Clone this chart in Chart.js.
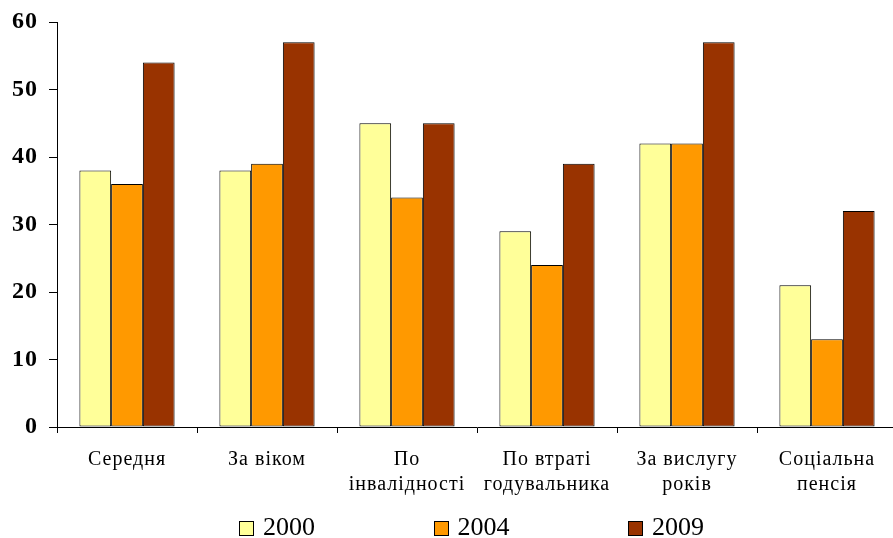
<!DOCTYPE html>
<html>
<head>
<meta charset="utf-8">
<script src="https://cdn.jsdelivr.net/npm/chart.js@4"></script>
<style>
    body { margin: 0; overflow: hidden; background: #fff; }
    #wrap { position: relative; width: 897px; height: 538px; }
    #legend {
        position: absolute; left: 239px; top: 512px;
        display: flex; font-family: "Liberation Serif", serif; font-size: 26px;
    }
    .item { width: 194.5px; display: flex; align-items: center; }
    .box { width: 13px; height: 13px; border: 1px solid #000; margin-right: 9px; margin-top: 3px; }
</style>
</head>
<body>
<div id="wrap">
    <canvas id="chart"></canvas>
    <div id="legend"></div>
</div>
<script>
const categories = [
    "Середня",
    "За віком",
    ["По", "інвалідності"],
    ["По втраті", "годувальника"],
    ["За вислугу", "років"],
    ["Соціальна", "пенсія"],
];
const seriesNames = ["2000", "2004", "2009"];
const values2000 = [38, 38, 45, 29, 42, 21];
const values2004 = [36, 39, 34, 24, 42, 13];
const values2009 = [54, 57, 45, 39, 57, 32];
const colors = ["#FFFF99", "#FF9900", "#993300"];
const yTicks = [0, 10, 20, 30, 40, 50, 60];

const datasets = [values2000, values2004, values2009].map((vals, i) => ({
    label: seriesNames[i],
    data: vals,
    backgroundColor: colors[i],
    borderColor: "#000",
    borderWidth: 1,
    borderSkipped: false,
    barPercentage: 1,
    categoryPercentage: 0.68,
}));

// Excel-style spaced labels
const spacing = {
    id: "spacing",
    beforeDraw: (chart) => { chart.ctx.letterSpacing = "1px"; },
};

const config = {
    type: "bar",
    data: { labels: categories, datasets: datasets },
    plugins: [spacing],
    options: {
        responsive: true,
        maintainAspectRatio: false,
        animation: false,
        layout: { padding: { top: 22, right: 0, left: 0, bottom: 0 } },
        plugins: { legend: { display: false }, tooltip: { enabled: false } },
        scales: {
            x: {
                afterFit: (scale) => { scale.height = 111; },
                grid: { drawOnChartArea: false, color: "#000", tickLength: 6, offset: true },
                border: { color: "#000", width: 1 },
                ticks: {
                    color: "#000",
                    padding: 14,
                    maxRotation: 0,
                    autoSkip: false,
                    font: { family: "Liberation Serif", size: 20, lineHeight: 1.25 },
                },
            },
            y: {
                min: 0,
                max: 60,
                afterFit: (scale) => {
                    scale.width = 57;
                    scale.paddingTop = 0;
                    scale.paddingBottom = 0;
                },
                afterBuildTicks: (scale) => { scale.ticks = yTicks.map((v) => ({ value: v })); },
                grid: { drawOnChartArea: false, color: "#000", tickLength: 8 },
                border: { color: "#000", width: 1 },
                ticks: {
                    color: "#000",
                    padding: 11,
                    font: { family: "Liberation Serif", size: 24, weight: "bold" },
                },
            },
        },
    },
};

const chart = new Chart(document.getElementById("chart"), config);

const legend = document.getElementById("legend");
seriesNames.forEach((name, i) => {
    legend.innerHTML += `<div class="item"><span class="box" style="background:${colors[i]}"></span><span>${name}</span></div>`;
});
</script>
</body>
</html>
